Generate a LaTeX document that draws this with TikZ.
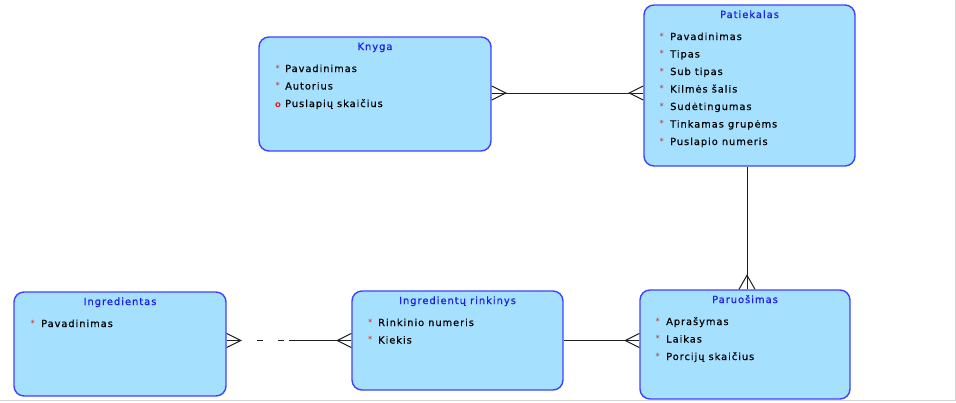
\documentclass[tikz,border=0pt]{standalone}
\usepackage{fontspec}
\setmainfont{DejaVu Sans}[LetterSpace=10,FakeBold=0.6]
\newfontfamily\markfont{DejaVu Sans}
\usetikzlibrary{calc}
\definecolor{entfill}{RGB}{166,224,255}
\definecolor{entborder}{RGB}{64,64,255}
\definecolor{titleblue}{RGB}{30,30,230}
\definecolor{markred}{RGB}{225,30,30}
\definecolor{edgegrey}{RGB}{212,212,212}
\definecolor{linkcol}{RGB}{30,30,30}
\begin{document}
\begin{tikzpicture}[x=1pt,y=-1pt,
  entity/.style={draw=entborder, fill=entfill, line width=1.4pt, rounded corners=10pt, inner sep=0pt},
  ttl/.style={anchor=base, text=titleblue, inner sep=0pt, font=\fontsize{9.9}{12}\selectfont},
  attr/.style={anchor=base west, text=black, inner sep=0pt, font=\fontsize{9.8}{12}\selectfont},
  req/.style={anchor=base west, text=markred, inner sep=0pt, font=\markfont\fontsize{8.5}{9}\selectfont},
  opt/.style={anchor=base west, text=markred, inner sep=0pt, font=\markfont\bfseries\fontsize{8.5}{10}\selectfont},
  link/.style={draw=linkcol, line width=1pt},
  crow/.style={draw=linkcol, line width=1pt}
]
\useasboundingbox (0,0) rectangle (956,402);
\draw[edgegrey, line width=1pt] (0,400.5) -- (956,400.5);
\draw[edgegrey, line width=1pt] (955.5,0) -- (955.5,400.5);

% entities
\node[entity, minimum width=232pt, minimum height=114pt] (K) at (375,94) {};
\node[entity, minimum width=211pt, minimum height=161pt] (P) at (749.5,85.5) {};
\node[entity, minimum width=212pt, minimum height=104pt] (I) at (120,344) {};
\node[entity, minimum width=211pt, minimum height=99pt] (R) at (457.5,340.5) {};
\node[entity, minimum width=210pt, minimum height=109pt] (Pa) at (745,344.5) {};

% Knyga
\node[ttl] (Kt) at (375,50) {Knyga};
\node[req] (Km1) at (275.5,71) {*};
\node[attr] (Ka1) at (285,72) {Pavadinimas};
\node[req] (Km2) at (275.5,88.5) {*};
\node[attr] (Ka2) at (285,89.5) {Autorius};
\node[opt] (Km3) at (275,107) {o};
\node[attr] (Ka3) at (285,107) {Puslapių skaičius};

% Patiekalas
\node[ttl] (Pt) at (749.5,18) {Patiekalas};
\foreach \i/\t in {0/Pavadinimas,1/Tipas,2/Sub tipas,3/Kilmės šalis,4/Sudėtingumas,5/Tinkamas grupėms,6/Puslapio numeris}{
  \node[req] (Pm\i) at (659.5,39+17.5*\i) {*};
  \node[attr] (Pa\i) at (670,40+17.5*\i) {\t};
}

% Ingredientas
\node[ttl] (It) at (120,305) {Ingredientas};
\node[req] (Im1) at (30.5,326) {*};
\node[attr] (Ia1) at (41,327) {Pavadinimas};

% Ingredientų rinkinys
\node[ttl] (Rt) at (457.5,304) {Ingredientų rinkinys};
\node[req] (Rm1) at (368,325) {*};
\node[attr] (Ra1) at (378,326) {Rinkinio numeris};
\node[req] (Rm2) at (368,342.5) {*};
\node[attr] (Ra2) at (378,343.5) {Kiekis};

% Paruošimas
\node[ttl] (PAt) at (745,303) {Paruošimas};
\node[req] (PAm1) at (655.5,324) {*};
\node[attr] (PAa1) at (666,325) {Aprašymas};
\node[req] (PAm2) at (655.5,341.5) {*};
\node[attr] (PAa2) at (666,342.5) {Laikas};
\node[req] (PAm3) at (655.5,359) {*};
\node[attr] (PAa3) at (666,360) {Porcijų skaičius};

% Knyga -- Patiekalas (many to many)
\coordinate (kp1) at ($(K.east)+(0,-1)$);
\coordinate (kp2) at (kp1 -| P.west);
\draw[link] (kp1) -- (kp2);
\draw[crow] ($(kp1)+(0,-7)$) -- ($(kp1)+(14,0)$) -- ($(kp1)+(0,7)$);
\draw[crow] ($(kp2)+(0,-7)$) -- ($(kp2)+(-14,0)$) -- ($(kp2)+(0,7)$);

% Patiekalas -- Paruosimas
\coordinate (pp1) at ($(P.south)+(-2.5,0)$);
\coordinate (pp2) at (pp1 |- Pa.north);
\draw[link] (pp1) -- (pp2);
\draw[crow] ($(pp2)+(-8,0)$) -- ($(pp2)+(0,-14)$) -- ($(pp2)+(8,0)$);

% Rinkinys -- Paruosimas
\coordinate (rp1) at (R.east);
\coordinate (rp2) at (rp1 -| Pa.west);
\draw[link] (rp1) -- (rp2);
\draw[crow] ($(rp2)+(0,-7)$) -- ($(rp2)+(-14,0)$) -- ($(rp2)+(0,7)$);

% Ingredientas -- Rinkinys
\coordinate (ir2) at (R.west);
\coordinate (ir1) at (ir2 -| I.east);
\coordinate (irm) at ($(ir1)!0.5!(ir2)$);
\draw[link, dash pattern=on 14pt off 16pt on 6pt off 15pt on 6pt off 6pt] (ir1) -- (irm);
\draw[link] (irm) -- (ir2);
\draw[crow] ($(ir1)+(0,-7)$) -- ($(ir1)+(14,0)$) -- ($(ir1)+(0,7)$);
\draw[crow] ($(ir2)+(0,-7)$) -- ($(ir2)+(-14,0)$) -- ($(ir2)+(0,7)$);
\end{tikzpicture}
\end{document}
